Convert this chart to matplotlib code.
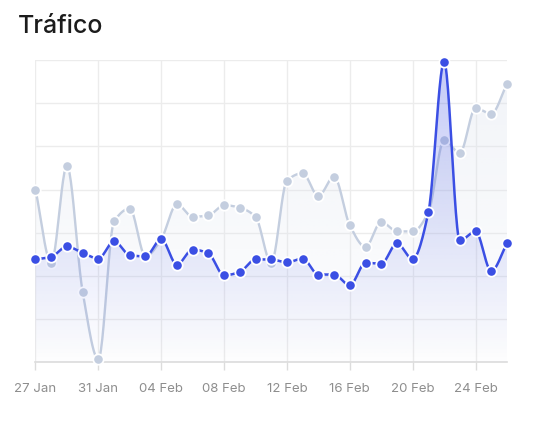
import numpy as np
import matplotlib.pyplot as plt
from matplotlib.patches import Polygon
from matplotlib.colors import to_rgb

plt.rcParams['font.family'] = ['Inter', 'DejaVu Sans']

# días desde el 27 Jan (27 Jan .. 26 Feb)
days = list(range(31))
tick_days = [0, 4, 8, 12, 16, 20, 24, 28]
tick_labels = ["27 Jan", "31 Jan", "04 Feb", "08 Feb", "12 Feb", "16 Feb", "20 Feb", "24 Feb"]

# serie actual (azul) y periodo anterior (gris), en unidades de la rejilla
actual = [2.38, 2.44, 2.68, 2.53, 2.40, 2.80, 2.48, 2.45, 2.85, 2.26,
          2.61, 2.52, 2.01, 2.09, 2.38, 2.38, 2.31, 2.40, 2.03, 2.03,
          1.78, 2.30, 2.28, 2.75, 2.39, 3.47, 6.96, 2.82, 3.03, 2.11, 2.75]
anterior = [4.00, 2.30, 4.55, 1.63, 0.06, 3.26, 3.56, 2.45, 2.85, 3.66,
            3.37, 3.40, 3.64, 3.58, 3.37, 2.30, 4.21, 4.38, 3.85, 4.30,
            3.17, 2.67, 3.25, 3.03, 3.03, 3.47, 5.15, 4.85, 5.89, 5.76, 6.45]

BLUE = "#3b4fe4"
GRAY = "#c4cedf"


def monotone(x, y, n=24):
    # curva suave (hermite monótona) que pasa por los puntos
    x = np.asarray(x, float)
    y = np.asarray(y, float)
    h = np.diff(x)
    d = np.diff(y) / h
    m = np.zeros_like(y)
    m[0], m[-1] = d[0], d[-1]
    for k in range(1, len(y) - 1):
        if d[k - 1] * d[k] > 0:
            m[k] = 2 / (1 / d[k - 1] + 1 / d[k])
    xs, ys = [], []
    for k in range(len(h)):
        t = np.linspace(0, 1, n, endpoint=False)
        h00 = 2 * t**3 - 3 * t**2 + 1
        h10 = t**3 - 2 * t**2 + t
        h01 = -2 * t**3 + 3 * t**2
        h11 = t**3 - t**2
        xs.append(x[k] + t * h[k])
        ys.append(h00 * y[k] + h10 * h[k] * m[k] + h01 * y[k + 1] + h11 * h[k] * m[k + 1])
    xs.append([x[-1]])
    ys.append([y[-1]])
    return np.concatenate(xs), np.concatenate(ys)


def gradient_fill(ax, xs, ys, color, a_top, a_bot, z):
    verts = [(xs[0], 0)] + list(zip(xs, ys)) + [(xs[-1], 0)]
    poly = Polygon(verts, closed=True, facecolor="none", edgecolor="none")
    ax.add_patch(poly)
    grad = np.zeros((200, 1, 4))
    grad[:, :, :3] = to_rgb(color)
    grad[:, 0, 3] = np.linspace(a_top, a_bot, 200)
    im = ax.imshow(grad, aspect="auto", extent=[0, 30, 0, 7], origin="upper",
                   zorder=z, interpolation="bilinear")
    im.set_clip_path(poly)


fig = plt.figure(figsize=(5.46, 4.24), dpi=100)
ax = fig.add_axes([0.065, 0.1462, 0.8635, 0.7116])

# periodo anterior
gx, gy = monotone(days, anterior)
gradient_fill(ax, gx, gy, "#dde3ee", 0.4, 0.05, 1)
ax.plot(gx, gy, color=GRAY, lw=1.7, zorder=2, solid_capstyle="round")
ax.plot(days, anterior, "o", color=GRAY, ms=7.5, mec="white", mew=1.3, zorder=3, clip_on=False)

# periodo actual
bx, by = monotone(days, actual)
gradient_fill(ax, bx, by, BLUE, 0.3, 0.0, 4)
ax.plot(bx, by, color=BLUE, lw=1.8, zorder=5, solid_capstyle="round")
ax.plot(days, actual, "o", color=BLUE, ms=7.5, mec="white", mew=1.3, zorder=6, clip_on=False)

ax.set_xlim(0, 30)
ax.set_ylim(0, 7)
ax.set_yticks(range(8))
ax.set_xticks(tick_days)
ax.set_xticklabels(tick_labels, fontsize=9.5, color="#8e8e8e")
ax.tick_params(axis="y", length=0, labelleft=False)
ax.tick_params(axis="x", length=6, width=1, color="#dcdcdc", pad=9)
ax.grid(True, color="#ececec", lw=1, zorder=0)
ax.set_axisbelow(True)
for s in ["top", "right", "left"]:
    ax.spines[s].set_visible(False)
ax.spines["bottom"].set_color("#dcdcdc")
ax.spines["bottom"].set_linewidth(1.2)

fig.text(0.033, 0.922, "Tráfico", fontsize=18, fontweight="medium",
         color="#1c1c1c", ha="left", va="baseline")

fig.savefig("out.png", dpi=100)
